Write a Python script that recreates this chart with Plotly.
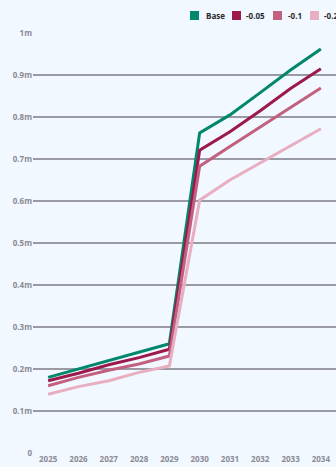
import plotly.graph_objects as go

years = ["2025", "2026", "2027", "2028", "2029", "2030", "2031", "2032", "2033", "2034"]
base = [0.180, 0.200, 0.220, 0.240, 0.260, 0.762, 0.805, 0.858, 0.912, 0.962]
s005 = [0.172, 0.190, 0.210, 0.227, 0.247, 0.721, 0.765, 0.815, 0.868, 0.915]
s01 = [0.160, 0.180, 0.197, 0.212, 0.231, 0.683, 0.730, 0.777, 0.822, 0.869]
s02 = [0.140, 0.158, 0.172, 0.192, 0.207, 0.602, 0.650, 0.690, 0.731, 0.772]

names = ["Base", "-0.05", "-0.1", "-0.2"]
series = [base, s005, s01, s02]
colors = ["#00876c", "#9c1a4b", "#c2607f", "#e8aec1"]

tickvals = [0, 0.1, 0.2, 0.3, 0.4, 0.5, 0.6, 0.7, 0.8, 0.9, 1.0]
ticktext = ["0", "0.1m", "0.2m", "0.3m", "0.4m", "0.5m", "0.6m", "0.7m", "0.8m", "0.9m", "1m"]

W, H = 336, 467
L, R, T, B = 33, 0, 33, 14
PW, PH = W - L - R, H - T - B
FONT = "Open Sans"

def px2x(px):
    return (px - L) / PW

def py2y(py):
    return (H - B - py) / PH

fig = go.Figure()
for name, vals, col in zip(names, series, colors):
    fig.add_trace(go.Scatter(x=years, y=vals, mode="lines", name=name,
                             line=dict(color=col, width=3), showlegend=False))

# custom legend (squares + labels)
sq_left = [190, 232, 273, 310]
txt_left = [204, 244, 286, 322]
for name, col, sl, tl in zip(names, colors, sq_left, txt_left):
    fig.add_shape(type="rect", xref="paper", yref="paper",
                  x0=px2x(sl), x1=px2x(sl + 9), y0=py2y(20), y1=py2y(11),
                  fillcolor=col, line=dict(width=0))
    fig.add_annotation(xref="paper", yref="paper", x=px2x(tl), y=py2y(15.5),
                       xanchor="left", yanchor="middle", text=name, showarrow=False,
                       font=dict(family=FONT, size=8, color="#2a2a2a", weight="bold"))

tickfont = dict(family=FONT, size=8, color="#8a8a95", weight="bold")
fig.update_layout(
    width=W, height=H,
    margin=dict(l=L, r=R, t=T, b=B),
    paper_bgcolor="#f2f8ff", plot_bgcolor="#f2f8ff",
    font=dict(family=FONT, size=8, color="#8a8a95"),
    showlegend=False,
    xaxis=dict(type="category", range=[-0.5, 9.5], showgrid=False, zeroline=False,
               showline=False, ticks="", tickfont=tickfont),
    yaxis=dict(range=[0, 1.0], tickvals=tickvals, ticktext=ticktext,
               showgrid=True, gridcolor="#9a9aa5", gridwidth=1.5,
               zeroline=False, showline=False, ticks="", tickfont=tickfont),
)
fig.write_html("out.html")
